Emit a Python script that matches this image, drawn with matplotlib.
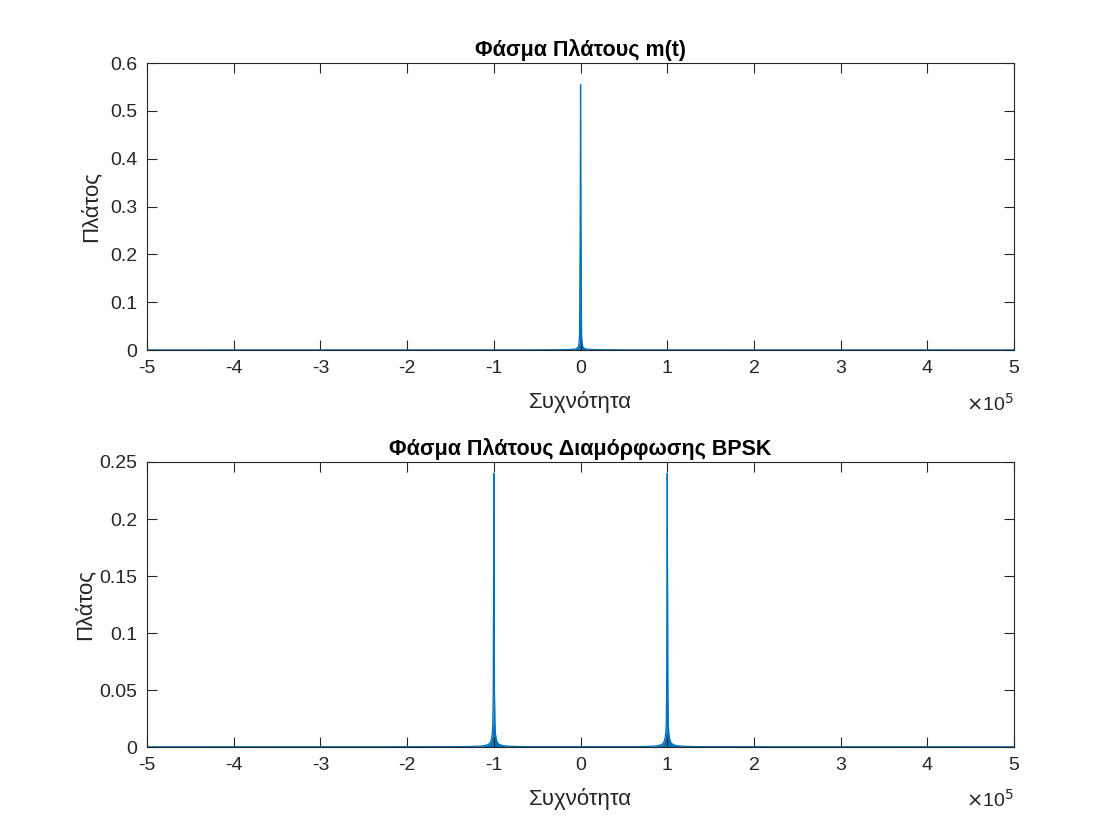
import matplotlib
matplotlib.use("Agg")
import matplotlib.pyplot as plt

plt.rcParams['font.family'] = ['Liberation Sans', 'DejaVu Sans']

# ---- Data ----
# Spectrum envelope of m(t): frequency (Hz) and amplitude
m_freq = [-500000, -60000, -30000, -20000, -14000, -10000, -7000, -5000, -4000,
          -3000, -2300, -1700, -1200, -800, -400, 0,
          400, 800, 1200, 1700, 2300, 3000, 4000, 5000, 7000,
          10000, 14000, 20000, 30000, 60000, 500000]
m_amp = [0.0003, 0.0004, 0.0006, 0.0008, 0.0011, 0.0015, 0.002, 0.003, 0.004,
         0.006, 0.009, 0.015, 0.03, 0.14, 0.27, 0.555,
         0.27, 0.14, 0.03, 0.015, 0.009, 0.006, 0.004, 0.003, 0.002,
         0.0015, 0.0011, 0.0008, 0.0006, 0.0004, 0.0003]

# Spectrum envelope of BPSK signal: offsets (Hz) around each carrier and amplitude
carrier_freqs = [-100000, 100000]
bpsk_offset = [-40000, -25000, -16000, -11000, -8000, -6000, -4500, -3500, -2500,
               -1800, -1200, -700, 0,
               700, 1200, 1800, 2500, 3500, 4500, 6000, 8000, 11000, 16000,
               25000, 40000]
bpsk_amp = [0.0003, 0.0005, 0.0008, 0.0012, 0.0018, 0.0025, 0.0035, 0.005, 0.008,
            0.012, 0.02, 0.05, 0.24,
            0.05, 0.02, 0.012, 0.008, 0.005, 0.0035, 0.0025, 0.0018, 0.0012, 0.0008,
            0.0005, 0.0003]
bpsk_floor = 0.0002
band_limits = [-500000, 500000]

x_ticks = [-5, -4, -3, -2, -1, 0, 1, 2, 3, 4, 5]
top_yticks = [0, 0.1, 0.2, 0.3, 0.4, 0.5, 0.6]
bot_yticks = [0, 0.05, 0.1, 0.15, 0.2, 0.25]
top_yticklabels = ['0', '0.1', '0.2', '0.3', '0.4', '0.5', '0.6']
bot_yticklabels = ['0', '0.05', '0.1', '0.15', '0.2', '0.25']

title_top = 'Φάσμα Πλάτους m(t)'
title_bot = 'Φάσμα Πλάτους Διαμόρφωσης BPSK'
xlabel = 'Συχνότητα'
ylabel = 'Πλάτος'

# ---- Build BPSK trace ----
bx = [band_limits[0]]
by = [bpsk_floor]
for fc in carrier_freqs:
    for o, a in zip(bpsk_offset, bpsk_amp):
        bx.append(fc + o)
        by.append(a)
bx.append(band_limits[1])
by.append(bpsk_floor)

color = '#0072BD'
fig = plt.figure(figsize=(11.2, 8.4), dpi=100)
ax1 = fig.add_axes([0.1313, 0.5833, 0.7741, 0.3417])
ax2 = fig.add_axes([0.1313, 0.1107, 0.7741, 0.3393])


def style(ax, yticks, ylabels, ymax, title, ylpad):
    ax.set_xlim(band_limits)
    ax.set_ylim(0, ymax)
    ax.set_xticks([t * 1e5 for t in x_ticks])
    ax.set_xticklabels([str(t) for t in x_ticks])
    ax.set_yticks(yticks)
    ax.set_yticklabels(ylabels)
    ax.tick_params(direction='in', length=7, width=0.8, top=True, right=True,
                   labelsize=14, colors='#262626', pad=7)
    for s in ax.spines.values():
        s.set_linewidth(0.8)
        s.set_color('#262626')
    ax.set_xlabel(xlabel, fontsize=16, color='#262626', labelpad=10)
    ax.set_ylabel(ylabel, fontsize=16, color='#262626', labelpad=ylpad)
    ax.set_title(title, fontsize=15.5, fontweight='bold', color='black', pad=5)
    ax.text(1.0, -0.148, r'$\times$10$^5$', transform=ax.transAxes, ha='right',
            va='top', fontsize=14, color='#262626')


ax1.fill_between(m_freq, m_amp, 0, color=color, linewidth=0)
ax1.plot(m_freq, m_amp, color=color, linewidth=0.9)
style(ax1, top_yticks, top_yticklabels, 0.6, title_top, 6)
ax2.fill_between(bx, by, 0, color=color, linewidth=0)
ax2.plot(bx, by, color=color, linewidth=0.9)
style(ax2, bot_yticks, bot_yticklabels, 0.25, title_bot, 3)

fig.savefig('out.png', dpi=100, facecolor='white')
